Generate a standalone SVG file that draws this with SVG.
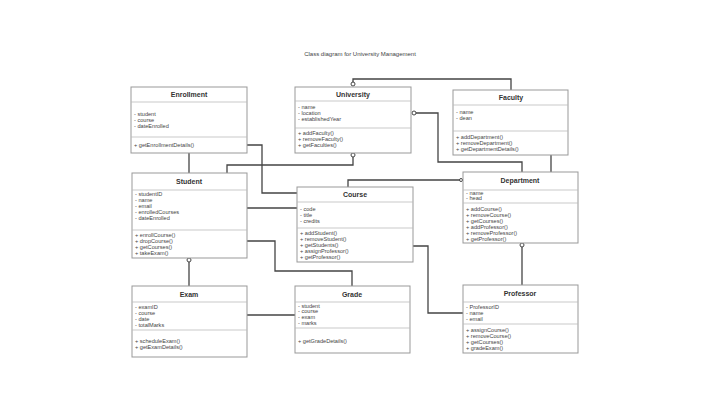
<svg xmlns="http://www.w3.org/2000/svg" width="720" height="413" viewBox="0 0 720 413">
<style>
.b{fill:#fff;stroke:#999;stroke-width:1}
.d{stroke:#bbb;stroke-width:0.8}
.t{font-family:"Liberation Sans",Arial,sans-serif;font-size:7px;font-weight:bold;fill:#333;text-anchor:middle}
.a{font-family:"Liberation Sans",Arial,sans-serif;font-size:5.6px;fill:#444}
.c{fill:none;stroke:#444;stroke-width:1.3}
.dm{fill:#fff;stroke:#444;stroke-width:1}
</style>
<rect width="720" height="413" fill="#fff"/>
<text x="360" y="56" font-family="Liberation Sans,Arial,sans-serif" font-size="6" fill="#444" text-anchor="middle">Class diagram for University Management</text>
<g id="connectors">
<path class="c" d="M353,83 V79 H511 V90"/>
<path class="c" d="M416,113 H438 V162 H522 V172"/>
<path class="c" d="M551,155 V172"/>
<path class="c" d="M247,145 H262 V193 H297"/>
<path class="c" d="M189,153 V173"/>
<path class="c" d="M353,157 V165 H227 V173"/>
<path class="c" d="M247,208 H297"/>
<path class="c" d="M247,241 H275 V271 H352 V286"/>
<path class="c" d="M413,246 H428 V313 H463"/>
<path class="c" d="M463,180 H348 V187"/>
<path class="c" d="M522,247 V285"/>
<path class="c" d="M189,262 V286"/>
<path class="c" d="M247,315 H295"/>
<circle class="dm" cx="353" cy="84" r="2"/>
<circle class="dm" cx="414" cy="113" r="2"/>
<circle class="dm" cx="353" cy="155" r="2"/>
<circle class="dm" cx="522" cy="245" r="2"/>
<circle class="dm" cx="189" cy="260" r="2"/>
<circle class="dm" cx="461" cy="180" r="1.5"/>
</g>
<g id="enrollment">
<rect class="b" x="131" y="87" width="116" height="66"/>
<line class="d" x1="131" y1="102" x2="247" y2="102"/><line class="d" x1="131" y1="137" x2="247" y2="137"/>
<text class="t" x="189" y="97">Enrollment</text>
<text class="a" x="134" y="116">- student</text><text class="a" x="134" y="122">- course</text><text class="a" x="134" y="128">- dateEnrolled</text>
<text class="a" x="134" y="147">+ getEnrollmentDetails()</text>
</g>
<g id="university">
<rect class="b" x="295" y="87" width="116" height="66"/>
<line class="d" x1="295" y1="101" x2="411" y2="101"/><line class="d" x1="295" y1="128" x2="411" y2="128"/>
<text class="t" x="353" y="97">University</text>
<text class="a" x="298" y="109">- name</text><text class="a" x="298" y="115">- location</text><text class="a" x="298" y="121">- establishedYear</text>
<text class="a" x="298" y="135">+ addFaculty()</text><text class="a" x="298" y="141">+ removeFaculty()</text><text class="a" x="298" y="147">+ getFaculties()</text>
</g>
<g id="faculty">
<rect class="b" x="453" y="90" width="115" height="65"/>
<line class="d" x1="453" y1="105" x2="568" y2="105"/><line class="d" x1="453" y1="131" x2="568" y2="131"/>
<text class="t" x="511" y="100">Faculty</text>
<text class="a" x="456" y="114">- name</text><text class="a" x="456" y="120">- dean</text>
<text class="a" x="456" y="139">+ addDepartment()</text><text class="a" x="456" y="145">+ removeDepartment()</text><text class="a" x="456" y="151">+ getDepartmentDetails()</text>
</g>
<g id="student">
<rect class="b" x="132" y="173" width="115" height="85"/>
<line class="d" x1="132" y1="190" x2="247" y2="190"/><line class="d" x1="132" y1="230" x2="247" y2="230"/>
<text class="t" x="189" y="184">Student</text>
<text class="a" x="135" y="196">- studentID</text><text class="a" x="135" y="202">- name</text><text class="a" x="135" y="208">- email</text><text class="a" x="135" y="214">- enrolledCourses</text><text class="a" x="135" y="220">- dateEnrolled</text>
<text class="a" x="135" y="237">+ enrollCourse()</text><text class="a" x="135" y="243">+ dropCourse()</text><text class="a" x="135" y="249">+ getCourses()</text><text class="a" x="135" y="255">+ takeExam()</text>
</g>
<g id="course">
<rect class="b" x="297" y="187" width="116" height="75"/>
<line class="d" x1="297" y1="202" x2="413" y2="202"/><line class="d" x1="297" y1="228" x2="413" y2="228"/>
<text class="t" x="355" y="197">Course</text>
<text class="a" x="300" y="211">- code</text><text class="a" x="300" y="217">- title</text><text class="a" x="300" y="223">- credits</text>
<text class="a" x="300" y="235">+ addStudent()</text><text class="a" x="300" y="241">+ removeStudent()</text><text class="a" x="300" y="247">+ getStudents()</text><text class="a" x="300" y="253">+ assignProfessor()</text><text class="a" x="300" y="259">+ getProfessor()</text>
</g>
<g id="department">
<rect class="b" x="463" y="172" width="115" height="71"/>
<line class="d" x1="463" y1="190" x2="578" y2="190"/><line class="d" x1="463" y1="203" x2="578" y2="203"/>
<text class="t" x="520" y="183">Department</text>
<text class="a" x="466" y="195" font-size="4">- name</text><text class="a" x="466" y="200" font-size="4">- head</text>
<text class="a" x="466" y="211">+ addCourse()</text><text class="a" x="466" y="217">+ removeCourse()</text><text class="a" x="466" y="223">+ getCourses()</text><text class="a" x="466" y="229">+ addProfessor()</text><text class="a" x="466" y="235">+ removeProfessor()</text><text class="a" x="466" y="241">+ getProfessor()</text>
</g>
<g id="exam">
<rect class="b" x="132" y="286" width="115" height="71"/>
<line class="d" x1="132" y1="302" x2="247" y2="302"/><line class="d" x1="132" y1="330" x2="247" y2="330"/>
<text class="t" x="189" y="297">Exam</text>
<text class="a" x="135" y="309">- examID</text><text class="a" x="135" y="315">- course</text><text class="a" x="135" y="321">- date</text><text class="a" x="135" y="327">- totalMarks</text>
<text class="a" x="135" y="343">+ scheduleExam()</text><text class="a" x="135" y="349">+ getExamDetails()</text>
</g>
<g id="grade">
<rect class="b" x="295" y="286" width="115" height="67"/>
<line class="d" x1="295" y1="302" x2="410" y2="302"/><line class="d" x1="295" y1="328" x2="410" y2="328"/>
<text class="t" x="352" y="297">Grade</text>
<text class="a" x="298" y="308" font-size="4.5">- student</text><text class="a" x="298" y="313" font-size="4.5">- course</text><text class="a" x="298" y="319">- exam</text><text class="a" x="298" y="325">- marks</text>
<text class="a" x="298" y="343">+ getGradeDetails()</text>
</g>
<g id="professor">
<rect class="b" x="463" y="285" width="115" height="68"/>
<line class="d" x1="463" y1="302" x2="578" y2="302"/><line class="d" x1="463" y1="324" x2="578" y2="324"/>
<text class="t" x="520" y="296">Professor</text>
<text class="a" x="466" y="309">- ProfessorID</text><text class="a" x="466" y="315">- name</text><text class="a" x="466" y="321">- email</text>
<text class="a" x="466" y="332">+ assignCourse()</text><text class="a" x="466" y="338">+ removeCourse()</text><text class="a" x="466" y="344">+ getCourses()</text><text class="a" x="466" y="350">+ gradeExam()</text>
</g>
</svg>
